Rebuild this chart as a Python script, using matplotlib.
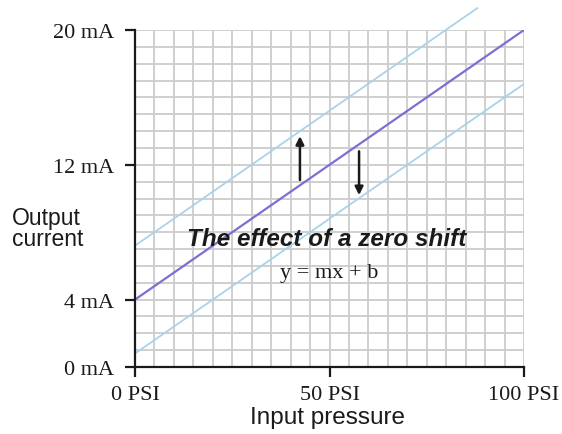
import numpy as np
import matplotlib.pyplot as plt
from matplotlib.ticker import MultipleLocator

# Data
psi = [0, 100]
nominal_ma = [4, 20]            # y = mx + b, b = 4 mA
upper_psi = [0, 88]
upper_ma = [7.2, 21.3]          # positive zero shift (runs past the top)
lower_psi = [0, 100]
lower_ma = [0.8, 16.8]          # negative zero shift

xticks = [0, 50, 100]
xlabels = ['0 PSI', '50 PSI', '100 PSI']
yticks = [0, 4, 12, 20]
ylabels = ['0 mA', '4 mA', '12 mA', '20 mA']

serif = ['Liberation Serif', 'DejaVu Serif']
sans = ['Liberation Sans', 'DejaVu Sans']

fig = plt.figure(figsize=(5.62, 4.35), dpi=100)
ax = fig.add_axes([135 / 562, 1 - 368 / 435, 389 / 562, 337 / 435])

ax.set_xlim(0, 100)
ax.set_ylim(0, 20)

# graph-paper grid
ax.xaxis.set_minor_locator(MultipleLocator(5))
ax.yaxis.set_minor_locator(MultipleLocator(1))
ax.grid(True, which='both', color='#cbcbcb', linewidth=1.3, zorder=0)
ax.set_axisbelow(True)

ax.plot(upper_psi, upper_ma, color='#a9d3ea', linewidth=1.3, clip_on=False, zorder=3)
ax.plot(lower_psi, lower_ma, color='#a9d3ea', linewidth=1.3, zorder=3)
ax.plot(psi, nominal_ma, color='#7b6fd3', linewidth=1.6, zorder=4)

# shift arrows
ax.annotate('', xy=(42.4, 13.7), xytext=(42.4, 11.1),
            arrowprops=dict(arrowstyle='-|>', color='#1a1a1a', lw=1.8,
                            mutation_scale=12, shrinkA=0, shrinkB=0))
ax.annotate('', xy=(57.6, 10.2), xytext=(57.6, 12.8),
            arrowprops=dict(arrowstyle='-|>', color='#1a1a1a', lw=1.8,
                            mutation_scale=12, shrinkA=0, shrinkB=0))

ax.text(49.3, 7.6, 'The effect of a zero shift', fontsize=17.5, fontweight='bold',
        fontstyle='italic', family=sans, color='#1a1a1a', ha='center', va='center', zorder=5)
ax.text(50, 5.6, 'y = mx + b', fontsize=16, family=serif, color='#1a1a1a',
        ha='center', va='center', zorder=5)

for side in ['top', 'right']:
    ax.spines[side].set_visible(False)
for side in ['left', 'bottom']:
    ax.spines[side].set_linewidth(1.6)
    ax.spines[side].set_color('#1a1a1a')
    ax.spines[side].set_zorder(6)

ax.set_xticks(xticks)
ax.set_xticklabels(xlabels, family=serif, fontsize=16, color='#1a1a1a')
ax.set_yticks(yticks)
ax.set_yticklabels(ylabels, family=serif, fontsize=16, color='#1a1a1a')
ax.tick_params(which='major', direction='out', length=7, width=1.6, color='#1a1a1a', pad=6)
ax.tick_params(axis='y', which='major', pad=8)
ax.tick_params(which='minor', length=0)

fig.text(328 / 562, 1 - 418 / 435, 'Input pressure', family=sans, fontsize=17.5,
         ha='center', va='center', color='#1a1a1a')
fig.text(12 / 562, 1 - 229 / 435, 'Output\ncurrent', family=sans, fontsize=16.5,
         ha='left', va='center', linespacing=0.9, color='#1a1a1a')

fig.savefig('out.png', dpi=100)
